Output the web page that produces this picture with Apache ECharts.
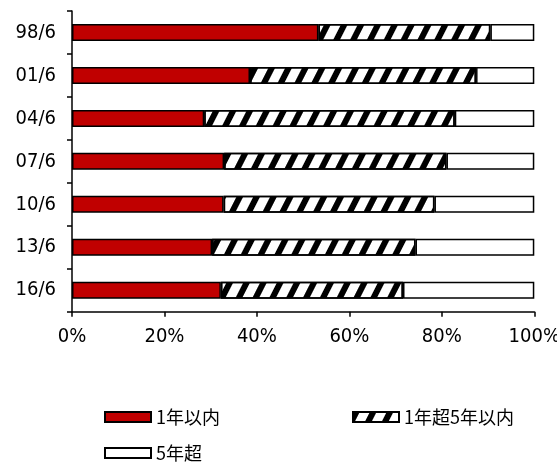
<!DOCTYPE html>
<html>
<head>
<meta charset="utf-8">
<script src="https://cdn.jsdelivr.net/npm/echarts@6/dist/echarts.min.js"></script>
<style>html,body{margin:0;padding:0;background:#fff;}#c{width:557px;height:462px;}</style>
</head>
<body>
<div id="c"></div>
<script>
const categories = ['98/6','01/6','04/6','07/6','10/6','13/6','16/6'];
const seriesNames = ['1年以内','1年超5年以内','5年超'];
const within1 = [53.3, 38.5, 28.6, 32.9, 32.8, 30.3, 32.2];
const from1to5 = [37.2, 48.9, 54.2, 48.1, 45.6, 44.0, 39.4];
const over5 = [9.5, 12.6, 17.2, 19.0, 21.6, 25.7, 28.4];
const xTickMin = 0, xTickMax = 100, xTickStep = 20;

const labelFont = "'DejaVu Sans Condensed', 'DejaVu Sans', sans-serif";
const legendFont = "'Noto Sans CJK JP', sans-serif";

const chart = echarts.init(document.getElementById('c'), null, {renderer: 'canvas'});
const border = {borderColor: '#000', borderWidth: 1.5};
const legendBase = {
  orient: 'horizontal', itemWidth: 46, itemHeight: 10, itemGap: 5, padding: 0,
  icon: 'rect', selectedMode: false,
  textStyle: {fontFamily: legendFont, fontSize: 18, color: '#000', padding: [0,0,0,0]}
};
chart.setOption({
  animation: false,
  backgroundColor: '#fff',
  grid: {left: 72, right: 22.7, top: 11, bottom: 150.3, containLabel: false, outerBoundsMode: 'none'},
  legend: [
    Object.assign({}, legendBase, {data: [seriesNames[0]], left: 104, top: 408}),
    Object.assign({}, legendBase, {data: [seriesNames[1]], left: 352, top: 408}),
    Object.assign({}, legendBase, {data: [seriesNames[2]], left: 104, top: 444})
  ],
  xAxis: {
    type: 'value', min: xTickMin, max: xTickMax, interval: xTickStep,
    axisLine: {show: true, lineStyle: {color: '#000', width: 1.5}},
    axisTick: {show: true, length: 5, lineStyle: {color: '#000', width: 1.5}},
    splitLine: {show: false},
    axisLabel: {formatter: '{value}%', color: '#000', fontFamily: labelFont, fontSize: 20, margin: 15}
  },
  yAxis: {
    type: 'category', data: categories, inverse: true,
    axisLine: {show: true, lineStyle: {color: '#000', width: 1.5}},
    axisTick: {show: true, length: 5, lineStyle: {color: '#000', width: 1.5}},
    axisLabel: {color: '#000', fontFamily: labelFont, fontSize: 20, margin: 16}
  },
  series: [
    {name: seriesNames[0], type: 'bar', stack: 's', data: within1, barWidth: 17,
     itemStyle: Object.assign({color: '#c00000'}, border)},
    {name: seriesNames[1], type: 'bar', stack: 's', data: from1to5, barWidth: 17,
     itemStyle: Object.assign({color: '#fff',
       decal: {symbol: 'rect', symbolSize: 1, dashArrayX: [1, 0], dashArrayY: [6, 9], rotation: -1.1, color: '#000'}}, border)},
    {name: seriesNames[2], type: 'bar', stack: 's', data: over5, barWidth: 17,
     itemStyle: Object.assign({color: '#fff'}, border)}
  ]
});
</script>
</body>
</html>
